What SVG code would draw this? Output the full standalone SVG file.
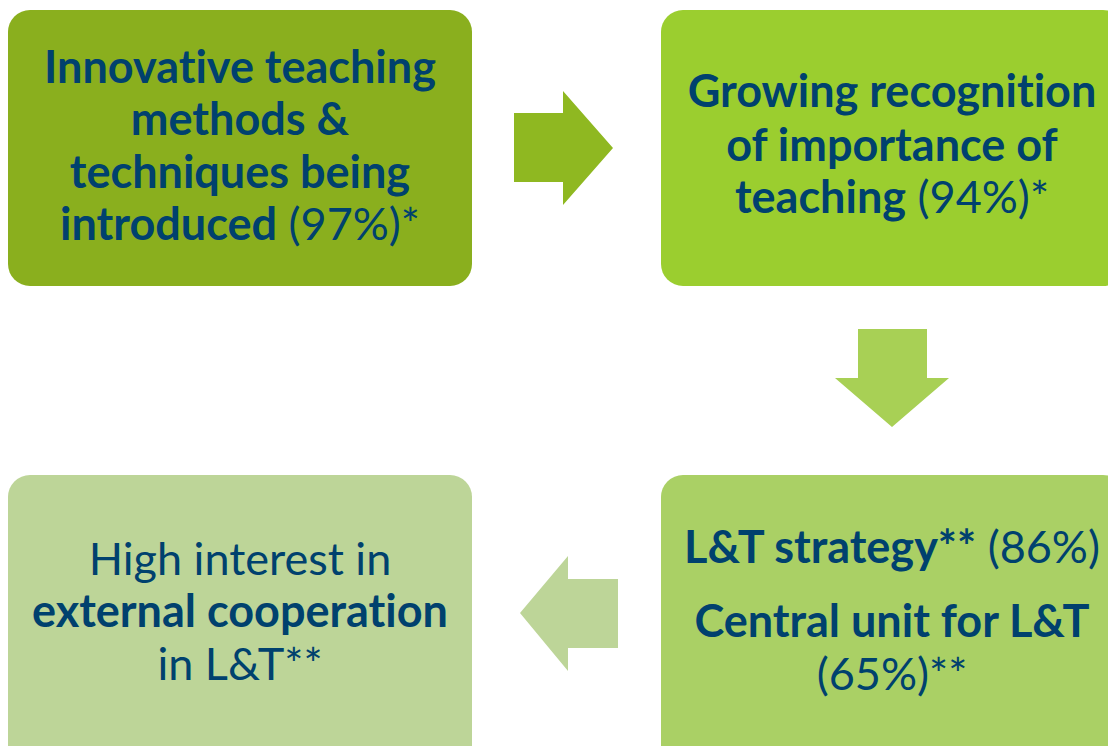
<svg xmlns="http://www.w3.org/2000/svg" width="1108" height="746" viewBox="0 0 1108 746">
  <style>
    text { font-family: Lato, "Open Sans", "Liberation Sans", sans-serif; font-size: 45px; fill: #00416E; text-anchor: middle; font-variant-ligatures: none; }
    .b { font-weight: 700; }
    .r { font-weight: 400; }
  </style>
  <rect width="1108" height="746" fill="#ffffff"/>

  <g id="node-innovative">
    <rect x="8" y="10" width="464" height="276" rx="22" fill="#8AAF1E"/>
    <text x="240" y="83"><tspan class="b">Innovative teaching</tspan></text>
    <text x="240" y="135"><tspan class="b">methods &amp;</tspan></text>
    <text x="240" y="188"><tspan class="b">techniques being</tspan></text>
    <text x="240" y="240"><tspan class="b">introduced</tspan><tspan class="r"> (97%)*</tspan></text>
  </g>

  <g id="node-recognition">
    <rect x="661" y="10" width="464" height="276" rx="22" fill="#9BCE2F"/>
    <text x="892" y="107"><tspan class="b">Growing recognition</tspan></text>
    <text x="892" y="161"><tspan class="b">of importance of</tspan></text>
    <text x="892" y="213"><tspan class="b">teaching</tspan><tspan class="r"> (94%)*</tspan></text>
  </g>

  <g id="node-strategy">
    <rect x="661" y="475" width="464" height="300" rx="22" fill="#AAD065"/>
    <text x="892" y="563"><tspan class="b">L&amp;T strategy**</tspan><tspan class="r"> (86%)</tspan></text>
    <text x="892" y="637"><tspan class="b">Central unit for L&amp;T</tspan></text>
    <text x="892" y="690"><tspan class="r">(65%)**</tspan></text>
  </g>

  <g id="node-cooperation">
    <rect x="8" y="475" width="464" height="300" rx="22" fill="#BDD598"/>
    <text x="240" y="575"><tspan class="r">High interest in</tspan></text>
    <text x="240" y="627"><tspan class="b">external cooperation</tspan></text>
    <text x="240" y="680"><tspan class="r">in L&amp;T**</tspan></text>
  </g>

  <g id="connectors">
    <polygon points="514,113 563,113 563,91 613,148 563,205 563,182 514,182" fill="#8FB821"/>
    <polygon points="858,329 927,329 927,378 949,378 892,427 835,378 858,378" fill="#A8D055"/>
    <polygon points="618,579 568,579 568,556 520,613 568,671 568,648 618,648" fill="#BDD598"/>
  </g>
</svg>
